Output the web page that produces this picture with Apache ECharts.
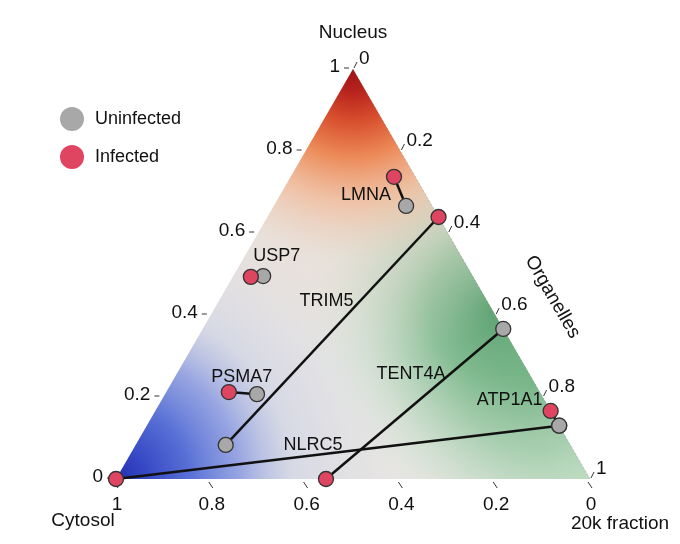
<!DOCTYPE html>
<html><head><meta charset="utf-8">
<script src="https://cdn.jsdelivr.net/npm/echarts@6/dist/echarts.min.js"></script>
<style>html,body{margin:0;padding:0;background:#fff}#c{width:680px;height:544px}</style>
</head><body><div id="c"></div>
<script>
// ---- data (ternary compositions: cytosol, nucleus, organelles) ----
const genes = ['LMNA','TRIM5','USP7','PSMA7','TENT4A','ATP1A1','NLRC5'];
const uninfCytosol    = [0.055,0.727,0.442,0.599,0.000,0.000,0.000];
const uninfNucleus    = [0.666,0.083,0.495,0.207,0.366,0.130,0.130];
const uninfOrganelles = [0.279,0.190,0.063,0.194,0.634,0.870,0.870];
const infCytosol      = [0.045,0.000,0.469,0.656,0.557,0.000,1.000];
const infNucleus      = [0.737,0.639,0.493,0.212,0.000,0.166,0.000];
const infOrganelles   = [0.218,0.361,0.038,0.132,0.443,0.834,0.000];
const tickValues = [0,0.2,0.4,0.6,0.8,1];
const tickLabels = ['0','0.2','0.4','0.6','0.8','1'];
const axisTitles = {nucleus:'Nucleus', cytosol:'Cytosol', organelles:'Organelles', frac:'20k fraction'};

// ---- styling ----
const H = Math.sqrt(3)/2;
const FONT = 'Liberation Sans, Arial, sans-serif';
const labelOffset = {LMNA:[-28,18], TRIM5:[-112,84], USP7:[26,-21], PSMA7:[13,-15], TENT4A:[85,-105], ATP1A1:[-41,-11], NLRC5:[197,-34]};
function tern(n, o){ return [o + n/2, n*H]; }

const uninfPts = genes.map((g,i)=>tern(uninfNucleus[i], uninfOrganelles[i]));
const infPts = genes.map((g,i)=>tern(infNucleus[i], infOrganelles[i]));

function poly(pts, fill){ return {type:'polygon', shape:{points:pts}, style:{fill:fill, stroke:'none'}, silent:true}; }
function radial(c, r, stops){ return {type:'radial', x:c[0], y:c[1], r:r, global:true, colorStops:stops.map(s=>({offset:s[0], color:s[1]}))}; }

function renderBg(params, api){
  const L = api.coord([0,0]), R = api.coord([1,0]), T = api.coord([0.5,H]);
  const S = R[0]-L[0];
  const pts = [L,R,T];
  const G1 = api.coord([0.80,0.36]);
  const G2 = api.coord([0.88,0.2]);
  return {type:'group', children:[
    poly(pts,'#e7e5e2'),
    poly(pts, radial(R, 0.32*S, [[0,'rgba(200,228,200,0.9)'],[1,'rgba(215,232,215,0)']])),
    poly(pts, radial(G2, 0.36*S, [[0,'rgba(95,165,115,0.85)'],[0.4,'rgba(130,188,145,0.6)'],[1,'rgba(215,232,215,0)']])),
    poly(pts, radial(G1, 0.40*S, [[0,'rgba(80,155,104,0.9)'],[0.35,'rgba(110,178,128,0.7)'],[0.7,'rgba(170,210,178,0.35)'],[1,'rgba(215,232,215,0)']])),
    poly(pts, radial(L, 0.62*S, [[0,'#2330b0'],[0.1,'#3647c4'],[0.25,'#5870d6'],[0.42,'rgba(130,148,225,0.8)'],[0.6,'rgba(190,198,232,0.4)'],[1,'rgba(220,222,235,0)']])),
    poly(pts, radial(T, 0.62*S, [[0,'#9c1216'],[0.08,'#b8241e'],[0.18,'#d8502e'],[0.3,'#ec8a58'],[0.45,'rgba(242,182,146,0.75)'],[0.65,'rgba(236,214,200,0.3)'],[1,'rgba(236,220,210,0)']])),
    {type:'line', shape:{x1:R[0],y1:R[1],x2:T[0],y2:T[1]}, style:{stroke:'rgba(90,120,90,0.5)', lineWidth:0.6, lineDash:[2,2]}, silent:true}
  ]};
}

function renderAxis(params, api){
  const t = tickValues[params.dataIndex];
  const lab = tickLabels[params.dataIndex];
  const P = api.coord([t/2, t*H]);
  const Q = api.coord([(1+t)/2, (1-t)*H]);
  const B = api.coord([1-t, 0]);
  const ls = {stroke:'#333', lineWidth:1};
  const ts = {fill:'#111', fontSize:19, fontFamily:FONT};
  return {type:'group', children:[
    {type:'line', shape:{x1:P[0]-9,y1:P[1]-1,x2:P[0]-4,y2:P[1]-1}, style:ls},
    {type:'text', x:P[0]-13, y:P[1]-2, style:Object.assign({}, ts, {text:lab, align:'right', verticalAlign:'middle'})},
    {type:'line', shape:{x1:Q[0]+1,y1:Q[1]-1,x2:Q[0]+4,y2:Q[1]-7}, style:ls},
    {type:'text', x:Q[0]+6, y:Q[1]-10, style:Object.assign({}, ts, {text:lab, align:'left', verticalAlign:'middle'})},
    {type:'line', shape:{x1:B[0]-2,y1:B[1]+3,x2:B[0]+2,y2:B[1]+9}, style:ls},
    {type:'text', x:B[0]+1, y:B[1]+26, style:Object.assign({}, ts, {text:lab, align:'center', verticalAlign:'middle'})}
  ]};
}

function renderTitles(params, api){
  const L = api.coord([0,0]), R = api.coord([1,0]), T = api.coord([0.5,H]);
  const M = api.coord([0.75, 0.5*H]);
  const ts = {fill:'#111', fontSize:19, fontFamily:FONT, align:'center', verticalAlign:'middle'};
  return {type:'group', children:[
    {type:'text', x:T[0], y:T[1]-36, style:Object.assign({}, ts, {text:axisTitles.nucleus})},
    {type:'text', x:L[0]-33, y:L[1]+42, style:Object.assign({}, ts, {text:axisTitles.cytosol})},
    {type:'text', x:R[0]+30, y:R[1]+45, style:Object.assign({}, ts, {text:axisTitles.frac})},
    {type:'text', x:M[0]+81, y:M[1]+23, rotation:-Math.PI/3, style:Object.assign({}, ts, {text:axisTitles.organelles})}
  ]};
}

function renderGeneLabels(params, api){
  const i = params.dataIndex;
  const p = api.coord(infPts[i]);
  const off = labelOffset[genes[i]];
  return {type:'text', x:p[0]+off[0], y:p[1]+off[1], style:{text:genes[i], fill:'#111', fontSize:18, fontFamily:FONT, align:'center', verticalAlign:'middle'}};
}

const chart = echarts.init(document.getElementById('c'), null, {renderer:'canvas'});
chart.setOption({
  animation:false,
  backgroundColor:'#ffffff',
  grid:{left:116, top:69, width:474, height:410},
  xAxis:{type:'value', min:0, max:1, show:false},
  yAxis:{type:'value', min:0, max:H, show:false},
  legend:{
    data:['Uninfected','Infected'], orient:'vertical', left:60, top:107, padding:0,
    itemWidth:24, itemHeight:24, itemGap:14, icon:'circle',
    itemStyle:{borderWidth:0},
    textStyle:{fontSize:18, color:'#111', fontFamily:FONT, padding:[0,0,0,6]}
  },
  series:[
    {type:'custom', name:'bg', renderItem:renderBg, data:[[0,0]], z:0, silent:true, clip:false},
    {type:'custom', name:'axis', renderItem:renderAxis, data:tickValues.map(v=>[v,0]), z:1, silent:true, clip:false},
    {type:'custom', name:'titles', renderItem:renderTitles, data:[[0,0]], z:1, silent:true, clip:false},
    {type:'lines', coordinateSystem:'cartesian2d', z:2,
      data:genes.map((g,i)=>({coords:[uninfPts[i], infPts[i]]})),
      lineStyle:{color:'#111', width:2.5, opacity:1}},
    {type:'scatter', name:'Uninfected', data:uninfPts, symbolSize:15, z:3,
      itemStyle:{color:'#a8a8a8', borderColor:'#333', borderWidth:1.3, opacity:1}},
    {type:'scatter', name:'Infected', data:infPts, symbolSize:15, z:4,
      itemStyle:{color:'#df4560', borderColor:'#333', borderWidth:1.3, opacity:1}},
    {type:'custom', name:'geneLabels', renderItem:renderGeneLabels, data:genes.map((g,i)=>infPts[i]), z:5, silent:true, clip:false}
  ]
});
</script></body></html>
